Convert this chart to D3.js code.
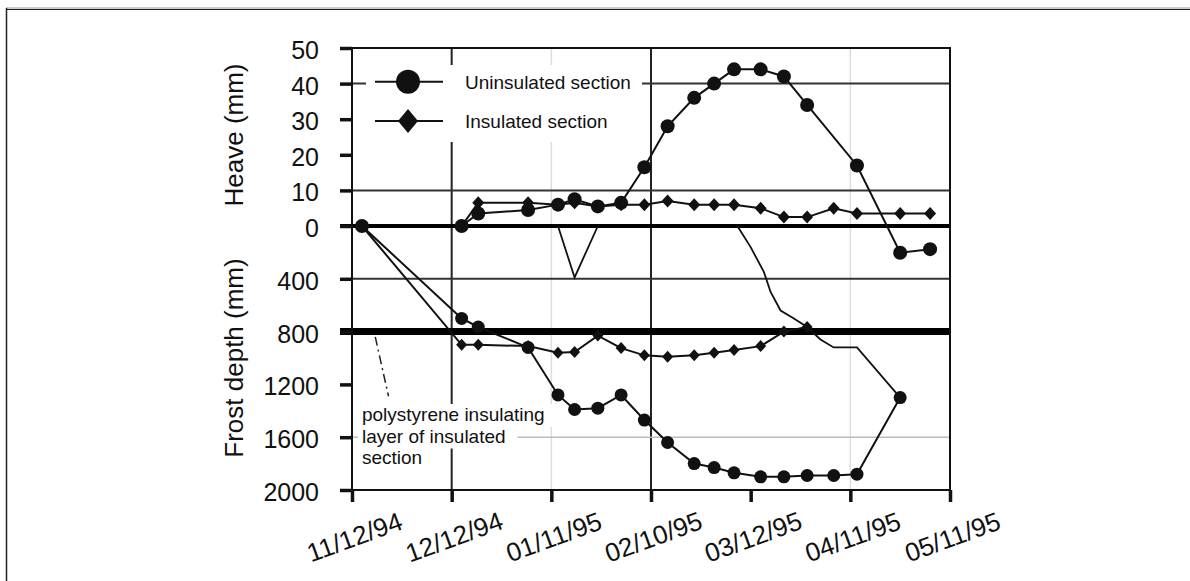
<!DOCTYPE html>
<html><head><meta charset="utf-8">
<script src="https://cdn.jsdelivr.net/npm/d3@7"></script>
<style>
body{margin:0;background:#fff}
svg{display:block}
text{font-family:"Liberation Sans",Arial,Helvetica,sans-serif;fill:#111}
</style>
</head><body>
<svg id="chart" width="1190" height="581"></svg>
<script>
// ---------- data ----------
const tickDates = ["11/12/94","12/12/94","01/11/95","02/10/95","03/12/95","04/11/95","05/11/95"];
const heaveTicks = [50,40,30,20,10,0];
const depthTicks = [400,800,1200,1600,2000];
const heaveGridDark = [40,10];
const depthGridDark = [400];
const depthGridLight = [1600];
const dateGridDark = ["12/12/94","02/10/95"];
const dateGridLight = ["01/11/95","04/11/95"];

const seriesNames = ["Uninsulated section","Insulated section"];
const frostStartDate = "11/15/94";
const obsDates = ["12/15/94","12/20/94","01/04/95","01/13/95","01/18/95","01/25/95","02/01/95","02/08/95","02/15/95","02/23/95","03/01/95","03/07/95","03/15/95","03/22/95","03/29/95","04/06/95","04/13/95","04/26/95","05/05/95"];
const heaveUninsulated = [0,3.5,4.5,6,7.5,5.5,6.5,16.5,28,36,40,44,44,42,34,null,17,-7.5,-6.5];
const heaveInsulated   = [0,6.5,6.5,6,6.5,5.5,6,6,7,6,6,6,5,2.5,2.5,5,3.5,3.5,3.5];
const frostUninsulated = [700,765,920,1280,1390,1380,1280,1470,1640,1800,1830,1870,1900,1900,1890,1890,1880,1300,null];
const frostInsulated   = [900,900,910,960,955,830,925,980,990,980,960,940,910,800,765,null,null,null,null];

const janThawDates = ["01/13/95","01/18/95","01/25/95"];
const janThaw = [0,390,0];
const springThawDates = ["03/08/95","03/12/95","03/16/95","03/18/95","03/21/95","03/25/95","03/29/95","04/02/95","04/06/95","04/13/95","04/26/95"];
const springThaw = [0,160,350,500,640,700,765,860,920,920,1300];

const annotationLines = ["polystyrene insulating","layer of insulated","section"];

// ---------- setup ----------
const svg = d3.select("#chart");
const parse = d3.utcParse("%m/%d/%y");
const x = d3.scaleUtc().domain([parse(tickDates[0]), parse(tickDates[tickDates.length-1])]).range([352,950]);
const yH = d3.scaleLinear().domain([0,50]).range([226,48]);
const yD = d3.scaleLinear().domain([0,2000]).range([226,490]);
const X0 = x.range()[0], X1 = x.range()[1], Y0 = yH(50), Y1 = yD(2000);

// outer frame
svg.append("line").attr("x1",6).attr("x2",1190).attr("y1",8).attr("y2",8).attr("stroke","#bbb").attr("stroke-width",1.5);
svg.append("line").attr("x1",6).attr("x2",1190).attr("y1",9.5).attr("y2",9.5).attr("stroke","#222").attr("stroke-width",1.2);
svg.append("line").attr("x1",6.5).attr("x2",6.5).attr("y1",8).attr("y2",581).attr("stroke","#222").attr("stroke-width",1.5);

// grid
const g = svg.append("g");
dateGridLight.forEach(d => g.append("line").attr("x1",x(parse(d))).attr("x2",x(parse(d))).attr("y1",Y0).attr("y2",Y1).attr("stroke","#ddd").attr("stroke-width",1.5));
dateGridDark.forEach(d => g.append("line").attr("x1",x(parse(d))).attr("x2",x(parse(d))).attr("y1",Y0).attr("y2",Y1).attr("stroke","#222").attr("stroke-width",2));
heaveGridDark.forEach(v => g.append("line").attr("x1",X0).attr("x2",X1).attr("y1",yH(v)).attr("y2",yH(v)).attr("stroke","#333").attr("stroke-width",2));
depthGridDark.forEach(v => g.append("line").attr("x1",X0).attr("x2",X1).attr("y1",yD(v)).attr("y2",yD(v)).attr("stroke","#333").attr("stroke-width",2));
depthGridLight.forEach(v => g.append("line").attr("x1",X0).attr("x2",X1).attr("y1",yD(v)).attr("y2",yD(v)).attr("stroke","#bbb").attr("stroke-width",1.5));

// legend background
const legG = svg.append("g");
legG.append("rect").attr("x",366).attr("y",65).attr("width",276).attr("height",77).attr("fill","#fff");

// annotation
const annG = svg.append("g");
annotationLines.forEach((t,i) => {
  const tx = annG.append("text").attr("x",x(parse("11/15/94"))).attr("y",421 + i*21.5).attr("font-size",19).text(t);
  const b = tx.node().getBBox();
  annG.insert("rect","text").attr("x",b.x-4).attr("y",b.y).attr("width",b.width+16).attr("height",b.height+2).attr("fill","#fff");
});
annG.append("line")
  .attr("x1",x(parse("11/19/94"))).attr("y1",yD(840))
  .attr("x2",x(parse("11/23/94"))).attr("y2",yD(1290))
  .attr("stroke","#222").attr("stroke-width",1.5).attr("stroke-dasharray","9,4,2,4");

// thick reference lines
svg.append("line").attr("x1",340).attr("x2",X1).attr("y1",yH(0)).attr("y2",yH(0)).attr("stroke","#000").attr("stroke-width",4);
svg.append("line").attr("x1",340).attr("x2",X1).attr("y1",yD(800)).attr("y2",yD(800)).attr("stroke","#000").attr("stroke-width",7);

// frame of plot
svg.append("rect").attr("x",X0).attr("y",Y0).attr("width",X1-X0).attr("height",Y1-Y0).attr("fill","none").attr("stroke","#111").attr("stroke-width",2);

// axes
const axH = svg.append("g").attr("transform",`translate(${X0},0)`).call(d3.axisLeft(yH).tickValues(heaveTicks).tickSize(12).tickPadding(21).tickFormat(d3.format("d")));
const axD = svg.append("g").attr("transform",`translate(${X0},0)`).call(d3.axisLeft(yD).tickValues(depthTicks).tickSize(12).tickPadding(21).tickFormat(d3.format("d")));
[axH,axD].forEach(a => {
  a.select(".domain").remove();
  a.selectAll(".tick line").attr("stroke","#111").attr("stroke-width",3.5);
  a.selectAll(".tick text").attr("font-size",25).attr("font-family","Liberation Sans, Arial, sans-serif").attr("fill","#111").attr("dy","0.42em");
});
const axX = svg.append("g").attr("transform",`translate(0,${Y1})`)
  .call(d3.axisBottom(x).tickValues(tickDates.map(parse)).tickSize(12).tickFormat((d,i)=>tickDates[i]));
axX.select(".domain").remove();
axX.selectAll(".tick line").attr("stroke","#111").attr("stroke-width",3.5);
axX.selectAll(".tick text").attr("font-size",26).attr("font-family","Liberation Sans, Arial, sans-serif").attr("fill","#111")
  .attr("y",0).attr("dy",0).attr("text-anchor","middle").attr("dominant-baseline","central")
  .attr("transform","translate(2,47) rotate(-20)");

// axis titles
svg.append("text").attr("transform",`translate(243,${(Y0+yH(0))/2 - 2}) rotate(-90)`).attr("text-anchor","middle").attr("font-size",26).text("Heave (mm)");
svg.append("text").attr("transform",`translate(243,${(yD(0)+Y1)/2}) rotate(-90)`).attr("text-anchor","middle").attr("font-size",26).text("Frost depth (mm)");

// ---------- series ----------
const diamond = (w,h) => `M0,${-h}L${w},0L0,${h}L${-w},0Z`;
function pts(dates, vals){ return dates.map((d,i)=>({d:parse(d), v:vals[i]})).filter(p=>p.v!==null); }

function drawSeries(points, yScale, marker, size, startPoint){
  const all = startPoint ? [startPoint].concat(points) : points;
  const line = d3.line().x(p=>x(p.d)).y(p=>yScale(p.v));
  svg.append("path").datum(all).attr("d",line).attr("fill","none").attr("stroke","#111").attr("stroke-width",2);
  const mg = svg.append("g");
  if(marker==="circle"){
    mg.selectAll("circle").data(points).join("circle").attr("cx",p=>x(p.d)).attr("cy",p=>yScale(p.v)).attr("r",size).attr("fill","#111");
  } else {
    mg.selectAll("path").data(points).join("path").attr("transform",p=>`translate(${x(p.d)},${yScale(p.v)})`).attr("d",diamond(size,size+0.5)).attr("fill","#111");
  }
}
function drawPlain(points, yScale){
  svg.append("path").datum(points).attr("d",d3.line().x(p=>x(p.d)).y(p=>yScale(p.v))).attr("fill","none").attr("stroke","#111").attr("stroke-width",1.8);
}

const start = {d:parse(frostStartDate), v:0};
drawPlain(pts(janThawDates,janThaw), yD);
drawPlain(pts(springThawDates,springThaw), yD);
drawSeries(pts(obsDates,frostInsulated), yD, "diamond", 5.5, start);
drawSeries(pts(obsDates,frostUninsulated), yD, "circle", 6.5, start);
drawSeries(pts(obsDates,heaveInsulated), yH, "diamond", 6, null);
drawSeries(pts(obsDates,heaveUninsulated), yH, "circle", 7, null);
svg.append("circle").attr("cx",x(start.d)).attr("cy",yD(0)).attr("r",7).attr("fill","#111");

// legend
const legY = [yH(40.5), yH(29.5)];
seriesNames.forEach((n,i) => {
  legG.append("line").attr("x1",375).attr("x2",443).attr("y1",legY[i]).attr("y2",legY[i]).attr("stroke","#111").attr("stroke-width",2);
  if(i===0) legG.append("circle").attr("cx",408).attr("cy",legY[i]).attr("r",12).attr("fill","#111");
  else legG.append("path").attr("transform",`translate(408,${legY[i]})`).attr("d",diamond(10,12)).attr("fill","#111");
  legG.append("text").attr("x",465).attr("y",legY[i]).attr("dy","0.36em").attr("font-size",19).text(n);
});
legG.raise();
</script>
</body></html>
